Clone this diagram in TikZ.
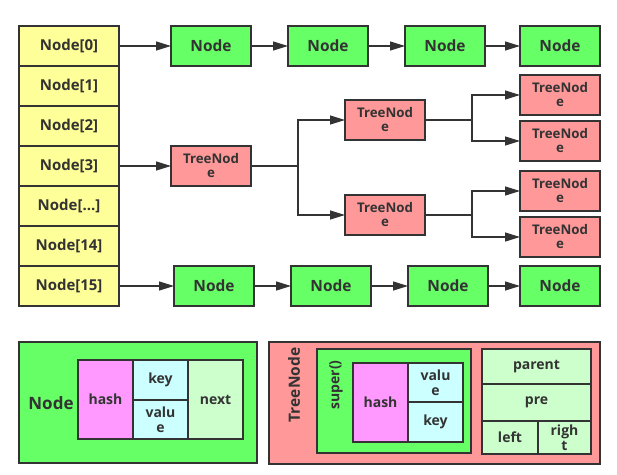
\documentclass[tikz,border=0pt]{standalone}
\usepackage{fontspec}
\setmainfont{Open Sans}
\usetikzlibrary{positioning, arrows.meta}
\definecolor{ink}{HTML}{333333}
\definecolor{cellyellow}{HTML}{FFFF99}
\definecolor{nodegreen}{HTML}{66FF66}
\definecolor{treered}{HTML}{FF9999}
\definecolor{hashpink}{HTML}{FF99FF}
\definecolor{kvcyan}{HTML}{CCFFFF}
\definecolor{paleGreen}{HTML}{CCFFCC}
\tikzset{every picture/.style={line width=1.3pt}}

\begin{document}
\begin{tikzpicture}[x=1pt,y=-1pt,node distance=37pt,color=ink,text=ink,font=\bfseries,
        box/.style={draw=ink,outer sep=0pt,inner sep=0pt,align=center},
        cell/.style={box,fill=cellyellow,minimum width=100pt,minimum height=40pt,font=\bfseries\fontsize{15}{17}\selectfont},
        listnode/.style={box,fill=nodegreen,minimum width=80pt,minimum height=40pt,font=\bfseries\fontsize{15.5}{17}\selectfont},
        treenode/.style={box,fill=treered,minimum width=80pt,minimum height=40pt,font=\bfseries\fontsize{13.3}{14}\selectfont},
        field/.style={box,font=\bfseries\fontsize{14}{15}\selectfont},
        link/.style={-{Triangle[length=15pt,width=9pt]}}]
        \useasboundingbox (0,0) rectangle (617,474);

        % table
        \node[cell] (n0) at (69,46) {Node[0]};
        \node[cell,below=0pt of n0] (n1) {Node[1]};
        \node[cell,below=0pt of n1] (n2) {Node[2]};
        \node[cell,below=0pt of n2] (n3) {Node[3]};
        \node[cell,below=0pt of n3] (ndots) {Node[...]};
        \node[cell,below=0pt of ndots] (n14) {Node[14]};
        \node[cell,below=0pt of n14] (n15) {Node[15]};

        % list at Node[0]
        \node[listnode] (a1) at (211,46) {Node};
        \node[listnode,right=of a1] (a2) {Node};
        \node[listnode,right=of a2] (a3) {Node};
        \node[listnode,right=35pt of a3] (a4) {Node};

        % list at Node[15]
        \node[listnode] (b1) at (214,286) {Node};
        \node[listnode,right=of b1] (b2) {Node};
        \node[listnode,right=of b2] (b3) {Node};
        \node[listnode,right=32pt of b3] (b4) {Node};

        % tree at Node[3]
        \node[treenode] (t0) at (211,166) {TreeNod\\e};
        \node[treenode] (t1) at (385,120) {TreeNod\\e};
        \node[treenode] (t2) at (385,215) {TreeNod\\e};
        \node[treenode] (l1) at (560,95) {TreeNod\\e};
        \node[treenode] (l2) at (560,141) {TreeNod\\e};
        \node[treenode] (l3) at (560,191) {TreeNod\\e};
        \node[treenode] (l4) at (560,237) {TreeNod\\e};
        \coordinate (s0) at (298,166);
        \coordinate (s1) at (472,120);
        \coordinate (s2) at (472,215);

        \draw[link] (n0) -- (a1);
        \draw[link] (a1) -- (a2);
        \draw[link] (a2) -- (a3);
        \draw[link] (a3) -- (a4);
        \draw[link] (n15) -- (b1);
        \draw[link] (b1) -- (b2);
        \draw[link] (b2) -- (b3);
        \draw[link] (b3) -- (b4);
        \draw[link] (n3) -- (t0);
        \draw (t0) -- (s0);
        \draw[link] (s0) |- (t1);
        \draw[link] (s0) |- (t2);
        \draw (t1) -- (s1);
        \draw[link] (s1) |- (l1);
        \draw[link] (s1) |- (l2);
        \draw (t2) -- (s2);
        \draw[link] (s2) |- (l3);
        \draw[link] (s2) |- (l4);

        % Node layout
        \node[box,fill=nodegreen,minimum width=238pt,minimum height=121pt] (nodebox) at (138,402.5) {};
        \node[font=\bfseries\fontsize{17}{19}\selectfont] (nodelabel) at (51,403) {Node};
        \node[field,fill=hashpink,minimum width=55pt,minimum height=79pt] (nhash) at (105.5,399.5) {hash};
        \node[field,fill=kvcyan,minimum width=55pt,minimum height=40pt] (nkey) at (160.5,380) {key};
        \node[field,fill=kvcyan,minimum width=55pt,minimum height=39pt] (nvalue) at (160.5,419.5) {valu\\e};
        \node[field,fill=paleGreen,minimum width=55pt,minimum height=79pt] (nnext) at (215.5,399.5) {next};

        % TreeNode layout
        \node[box,fill=treered,minimum width=331pt,minimum height=122pt] (treebox) at (434.5,403) {};
        \node[rotate=90,font=\bfseries\fontsize{15.5}{17}\selectfont] (treelabel) at (294,385) {TreeNode};
        \node[box,fill=nodegreen,minimum width=154pt,minimum height=104pt] (superbox) at (394,401) {};
        \node[rotate=90,font=\bfseries\fontsize{14}{15}\selectfont] (superlabel) at (336,385) {super()};
        \node[field,fill=hashpink,minimum width=55pt,minimum height=79pt] (thash) at (380.5,402.5) {hash};
        \node[field,fill=kvcyan,minimum width=55pt,minimum height=39pt] (tvalue) at (435.5,382.5) {valu\\e};
        \node[field,fill=kvcyan,minimum width=55pt,minimum height=40pt] (tkey) at (435.5,422) {key};
        \node[field,fill=paleGreen,minimum width=109pt,minimum height=35pt] (tparent) at (536.5,366.5) {parent};
        \node[field,fill=paleGreen,minimum width=109pt,minimum height=37pt] (tpre) at (536.5,402.5) {pre};
        \node[field,fill=paleGreen,minimum width=56pt,minimum height=33pt] (tleft) at (510,437.5) {left};
        \node[field,fill=paleGreen,minimum width=53pt,minimum height=33pt] (tright) at (564.5,437.5) {righ\\t};
\end{tikzpicture}
\end{document}
